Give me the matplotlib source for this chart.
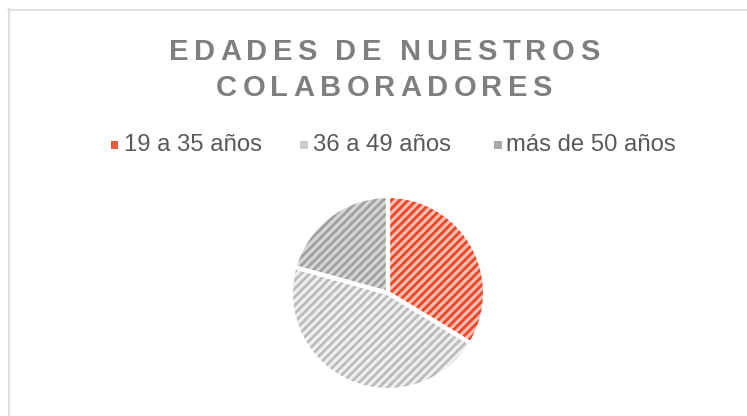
import matplotlib
matplotlib.use('Agg')
import matplotlib.pyplot as plt
from matplotlib.font_manager import FontProperties
from matplotlib.patches import Rectangle
from matplotlib.lines import Line2D

# data
categories = ['19 a 35 años', '36 a 49 años', 'más de 50 años']
shares = [33.7, 45.6, 20.7]
title_lines = ['EDADES DE NUESTROS', 'COLABORADORES']

face_cols = ['#F8BEB0', '#EFEFEF', '#D6D6D6']
hatch_cols = ['#EC4528', '#BBBBBB', '#A0A0A0']
marker_cols = ['#EE5A3E', '#CDCDCD', '#A9A9A9']

W, H = 747, 416
plt.rcParams['font.family'] = ['Liberation Sans', 'DejaVu Sans']
plt.rcParams['hatch.linewidth'] = 2.0

fig = plt.figure(figsize=(W / 100, H / 100), dpi=100)

# light chart border (top and left visible)
fig.add_artist(Line2D([8 / W, 1], [1 - 9.5 / H] * 2, color='#D9D9D9', lw=1.2))
fig.add_artist(Line2D([8.5 / W] * 2, [0, 1 - 9 / H], color='#D9D9D9', lw=1.2))

# pie axes: centre (388, 293) px, radius 97 px
cx, cy, r = 388, 293, 97
ax = fig.add_axes([(cx - r) / W, (H - cy - r) / H, 2 * r / W, 2 * r / H])
wedges, _ = ax.pie(shares, startangle=90, counterclock=False, radius=1,
                   colors=face_cols,
                   wedgeprops=dict(linewidth=0))
for w, hc in zip(wedges, hatch_cols):
    w.set_edgecolor(hc)
    w.set_hatch('////')
    w.set_linewidth(0)
# white separators on top
ax.pie(shares, startangle=90, counterclock=False, radius=1,
       colors=['none'] * len(shares),
       wedgeprops=dict(linewidth=3.0, edgecolor='white', fill=False))
ax.set_xlim(-1, 1)
ax.set_ylim(-1, 1)
ax.set_aspect('equal')
ax.axis('off')
for p in ax.patches:
    p.set_clip_on(False)

# letter-spaced title
renderer = fig.canvas.get_renderer()
tprop = FontProperties(family='Liberation Sans', weight='bold', size=21)


def text_w(s):
    bar = renderer.get_text_width_height_descent('|', tprop, ismath=False)[0]
    return renderer.get_text_width_height_descent(s + '|', tprop, ismath=False)[0] - bar


def spaced_line(s, y_px, spacing, xc=384):
    total = text_w(s) + spacing * (len(s) - 1)
    x0 = xc - total / 2
    for i, ch in enumerate(s):
        x = x0 + text_w(s[:i]) + spacing * i
        fig.text(x / W, 1 - y_px / H, ch, fontproperties=tprop,
                 color='#7F7F7F', ha='left', va='baseline')


spaced_line(title_lines[0], 59.5, 5.3)
spaced_line(title_lines[1], 96.5, 5.3)

# legend
leg_marker_x = [111, 300, 494]
leg_text_x = [124, 313, 506]
for mx, tx, lab, mc in zip(leg_marker_x, leg_text_x, categories, marker_cols):
    fig.add_artist(Rectangle((mx / W, 1 - 148.5 / H), 7.5 / W, 7.5 / H,
                             facecolor=mc, lw=0, transform=fig.transFigure))
    fig.text(tx / W, 1 - 145 / H, lab, fontsize=17.2, color='#595959',
             ha='left', va='center')

fig.savefig('out.png', dpi=100)
